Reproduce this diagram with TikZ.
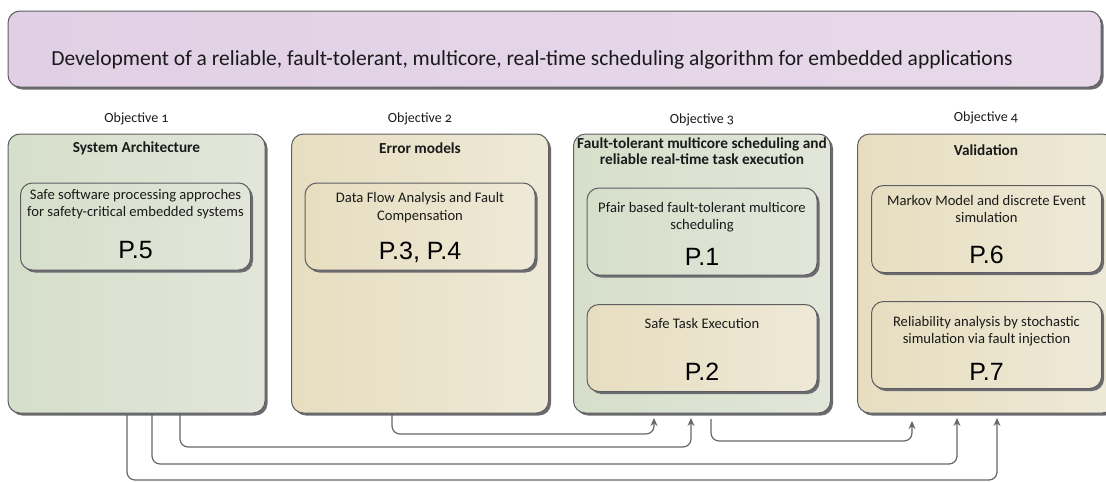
\documentclass[tikz,border=0pt]{standalone}
\usepackage{fontspec}
\setmainfont{Carlito}
\newfontfamily\numfont{Liberation Sans}
\newfontfamily\oldnum[Numbers=OldStyle]{Carlito}
\usetikzlibrary{shadows,arrows.meta}
\definecolor{titleL}{HTML}{E1D0E5}
\definecolor{titleR}{HTML}{E7D9EA}
\definecolor{greenL}{HTML}{D6DFCA}
\definecolor{greenR}{HTML}{E2E6DA}
\definecolor{tanL}{HTML}{E7DEC0}
\definecolor{tanR}{HTML}{EEE9D7}
\definecolor{border}{HTML}{5E5E62}
\definecolor{shadowc}{HTML}{6C6C70}
\definecolor{linec}{HTML}{66666C}
\definecolor{textc}{HTML}{1A1A1A}
\tikzset{
  box/.style={draw=border, line width=1pt, rounded corners=12pt, inner sep=0pt, outer sep=0pt,
    drop shadow={shadow xshift=2.5pt, shadow yshift=-2.5pt, fill=shadowc, opacity=1}},
  greenbox/.style={box, left color=greenL, right color=greenR},
  tanbox/.style={box, left color=tanL, right color=tanR},
  outer/.style={minimum width=257pt, minimum height=279pt},
  inner/.style={minimum width=230pt, minimum height=87pt},
  objlabel/.style={font=\oldnum\fontsize{14}{16}\selectfont, text=textc},
  heading/.style={font=\bfseries\fontsize{15.3}{16.5}\selectfont, align=center, text=textc, inner sep=0pt},
  desc/.style={font=\fontsize{14.6}{17.5}\selectfont, align=center, text=textc, inner sep=0pt},
  pnum/.style={font=\numfont\fontsize{25}{28}\selectfont, text=black, inner sep=0pt},
  conn/.style={draw=linec, line width=1.2pt, rounded corners=8pt,
    -{Stealth[length=8pt,width=7pt,fill=linec]}}
}
\begin{document}
\begin{tikzpicture}[x=1pt,y=-1pt]
\clip (0,0) rectangle (1106,482);
\fill[white] (0,0) rectangle (1106,482);

% title
\node[box, left color=titleL, right color=titleR, minimum width=1093pt, minimum height=76pt] (title) at (554.5,49) {};
\node[font=\fontsize{21.5}{24}\selectfont, text=textc, anchor=base] (titletext) at (532,65)
  {Development of a reliable, fault-tolerant, multicore, real-time scheduling algorithm for embedded applications};

% objective labels
\node[objlabel] (l1) at (136.5,119) {Objective 1};
\node[objlabel] (l2) at (420,119) {Objective 2};
\node[objlabel] (l3) at (702,120) {Objective 3};
\node[objlabel] (l4) at (986,118) {Objective 4};

% outer boxes
\node[greenbox, outer] (o1) at (136.5,273.5) {};
\node[tanbox, outer] (o2) at (420,273.5) {};
\node[greenbox, outer] (o3) at (702,273.5) {};
\node[tanbox, outer] (o4) at (986,273.5) {};

% headings
\node[heading] (h1) at (136.5,148) {System Architecture};
\node[heading] (h2) at (420,148) {Error models};
\node[heading] (h3) at (702,151) {Fault-tolerant multicore scheduling and\\reliable real-time task execution};
\node[heading] (h4) at (986,150) {Validation};

% inner boxes
\node[greenbox, inner] (b5) at (135.5,226.5) {};
\node[tanbox, inner] (b34) at (420,226.5) {};
\node[greenbox, inner] (b1) at (702,231.5) {};
\node[tanbox, inner] (b2) at (702,348) {};
\node[tanbox, inner] (b6) at (986.5,229) {};
\node[tanbox, inner] (b7) at (986.5,345) {};

% inner texts
\node[desc] (d5) at (135.5,204) {Safe software processing approches\\for safety-critical embedded systems};
\node[pnum] (n5) at (135.5,250) {P.5};
\node[desc] (d34) at (420,207.5) {Data Flow Analysis and Fault\\Compensation};
\node[pnum] (n34) at (420,252) {P.3, P.4};
\node[desc] (d1) at (702,217) {Pfair based fault-tolerant multicore\\scheduling};
\node[pnum] (n1) at (702,257) {P.1};
\node[desc] (d2) at (702,323) {Safe Task Execution};
\node[pnum] (n2) at (702,372) {P.2};
\node[desc] (d6) at (986.5,209) {Markov Model and discrete Event\\simulation};
\node[pnum] (n6) at (986.5,255) {P.6};
\node[desc] (d7) at (986.5,331) {Reliability analysis by stochastic\\simulation via fault injection};
\node[pnum] (n7) at (986.5,372) {P.7};

% connector end points
\coordinate (s1) at (o2.south -| 392,0);
\coordinate (t1) at (654,418);
\coordinate (s2) at (o1.south -| 180,0);
\coordinate (t2) at (691,418);
\coordinate (s3) at (o1.south -| 152,0);
\coordinate (t3) at (957,418);
\coordinate (s4) at (o1.south -| 127,0);
\coordinate (t4) at (997,418);
\coordinate (s5) at (711,419);
\coordinate (t5) at (912,421);

\draw[conn] (s1) -- (s1 |- 0,434) -| (t1);
\draw[conn] (s2) -- (s2 |- 0,447) -| (t2);
\draw[conn] (s3) -- (s3 |- 0,464) -| (t3);
\draw[conn] (s4) -- (s4 |- 0,480) -| (t4);
\draw[conn] (s5) -- (s5 |- 0,441) -| (t5);
\end{tikzpicture}
\end{document}
